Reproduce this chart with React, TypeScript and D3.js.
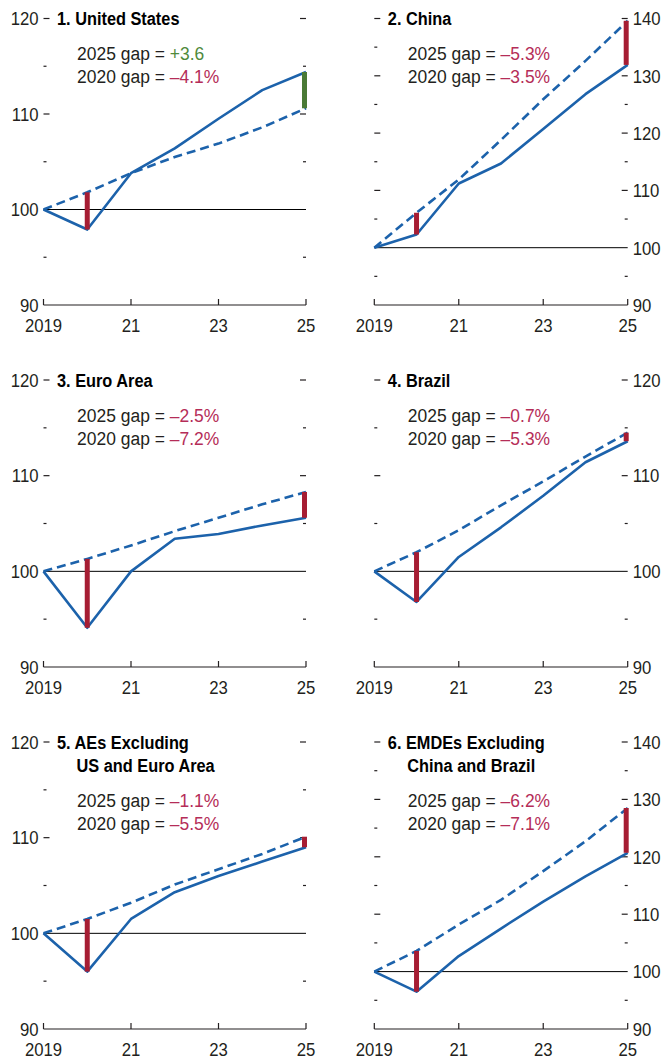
import { useEffect, useRef } from 'react';
import * as d3 from 'd3';

const years = [2019, 2020, 2021, 2022, 2023, 2024, 2025];
const xTickYears = [2019, 2021, 2023, 2025];
const xTickLabels = ['2019', '21', '23', '25'];

const usActual = [100, 97.9, 103.8, 106.4, 109.5, 112.5, 114.4];
const usTrend = [100, 101.8, 103.8, 105.5, 106.9, 108.6, 110.6];
const chinaActual = [100, 102.3, 111.2, 114.7, 120.7, 126.8, 131.9];
const chinaTrend = [100, 106.1, 111.9, 118.8, 125.9, 132.6, 139.6];
const euroActual = [100, 94.1, 100.0, 103.4, 103.9, 104.8, 105.6];
const euroTrend = [100, 101.3, 102.7, 104.2, 105.6, 107.0, 108.3];
const brazilActual = [100, 96.8, 101.5, 104.6, 107.9, 111.4, 113.6];
const brazilTrend = [100, 102.0, 104.3, 106.9, 109.4, 112.0, 114.5];
const aesActual = [100, 96.0, 101.5, 104.3, 106.0, 107.5, 109.0];
const aesTrend = [100, 101.5, 103.2, 105.1, 106.7, 108.3, 110.1];
const emdeActual = [100, 96.5, 102.7, 107.5, 112.2, 116.6, 120.7];
const emdeTrend = [100, 103.6, 108.2, 112.5, 117.5, 122.7, 128.5];

const titles = [
  ['1. United States'],
  ['2. China'],
  ['3. Euro Area'],
  ['4. Brazil'],
  ['5. AEs Excluding', 'US and Euro Area'],
  ['6. EMDEs Excluding', 'China and Brazil'],
];
const gap2025 = ['+3.6', '\u20135.3%', '\u20132.5%', '\u20130.7%', '\u20131.1%', '\u20136.2%'];
const gap2020 = ['\u20134.1%', '\u20133.5%', '\u20137.2%', '\u20135.3%', '\u20135.5%', '\u20137.1%'];
const yMax = [120, 140, 120, 120, 120, 140];

const actuals = [usActual, chinaActual, euroActual, brazilActual, aesActual, emdeActual];
const trends = [usTrend, chinaTrend, euroTrend, brazilTrend, aesTrend, emdeTrend];

const BLUE = '#1c62ab';
const BAR_RED = '#a61d33';
const BAR_GREEN = '#4a7a36';
const TXT_RED = '#b52d58';
const TXT_GREEN = '#4f8a3c';
const INK = '#231f20';
const FONT = '"Liberation Sans", Arial, sans-serif';
const FS = 19;
const SX = 0.88;

// narrow text: the reference uses a condensed face, so squeeze Liberation Sans
function addText(
  g: d3.Selection<SVGGElement, unknown, null, undefined>,
  x: number, y: number, anchor: string, sx = SX
) {
  return g.append('text')
    .attr('transform', `translate(${x},${y}) scale(${sx},1)`)
    .attr('text-anchor', anchor)
    .style('font-size', `${FS}px`)
    .style('fill', INK);
}

export default function App() {
  const svgRef = useRef<SVGSVGElement>(null);

  useEffect(() => {
    if (!svgRef.current) return;
    const svg = d3.select(svgRef.current);
    svg.selectAll('*').remove();

    const cols = [
      { x0: 43.5, x1: 306 },
      { x0: 374.3, x1: 627.7 },
    ];
    const rows = [
      { top: 18.5, bottom: 305 },
      { top: 380, bottom: 667 },
      { top: 742, bottom: 1029 },
    ];

    titles.forEach((title, i) => {
      const col = cols[i % 2];
      const row = rows[Math.floor(i / 2)];
      const right = i % 2 === 1;
      const g = svg.append('g').style('font-family', FONT) as any;

      const x = d3.scaleLinear().domain([2019, 2025]).range([col.x0, col.x1]);
      const y = d3.scaleLinear().domain([90, yMax[i]]).range([row.bottom, row.top]);

      // y ticks on both sides, pointing inward
      d3.range(95, yMax[i] + 1, 5).forEach(v => {
        if (v === 100) return;
        const len = v % 10 === 0 ? 6 : 3;
        g.append('line')
          .attr('x1', col.x0).attr('x2', col.x0 + len)
          .attr('y1', y(v)).attr('y2', y(v))
          .attr('stroke', INK).attr('stroke-width', 1.2);
        g.append('line')
          .attr('x1', col.x1 - len).attr('x2', col.x1)
          .attr('y1', y(v)).attr('y2', y(v))
          .attr('stroke', INK).attr('stroke-width', 1.2);
      });

      d3.range(90, yMax[i] + 1, 10).forEach(v => {
        addText(g, right ? col.x1 + 5 : col.x0 - 5, y(v) + 6.8, right ? 'start' : 'end')
          .text(String(v));
      });

      // x axis
      g.append('line')
        .attr('x1', col.x0).attr('x2', col.x1)
        .attr('y1', row.bottom).attr('y2', row.bottom)
        .attr('stroke', INK).attr('stroke-width', 1.2);
      xTickYears.forEach((yr, k) => {
        g.append('line')
          .attr('x1', x(yr)).attr('x2', x(yr))
          .attr('y1', row.bottom).attr('y2', row.bottom - 6)
          .attr('stroke', INK).attr('stroke-width', 1.2);
        addText(g, x(yr), row.bottom + 27, 'middle').text(xTickLabels[k]);
      });

      // 100 reference line
      g.append('line')
        .attr('x1', col.x0).attr('x2', col.x1)
        .attr('y1', y(100)).attr('y2', y(100))
        .attr('stroke', '#000').attr('stroke-width', 1);

      const line = d3.line<number>()
        .x((_, k) => x(years[k]))
        .y(d => y(d));

      g.append('path')
        .datum(trends[i])
        .attr('fill', 'none')
        .attr('stroke', BLUE)
        .attr('stroke-width', 2.6)
        .attr('stroke-dasharray', '9,5')
        .attr('d', line);

      g.append('path')
        .datum(actuals[i])
        .attr('fill', 'none')
        .attr('stroke', BLUE)
        .attr('stroke-width', 2.6)
        .attr('stroke-linejoin', 'round')
        .attr('d', line);

      // gap bars for 2020 and 2025
      [1, 6].forEach(k => {
        const a = actuals[i][k];
        const t = trends[i][k];
        const bx = x(years[k]) - (k === 6 ? 1.5 : 0);
        g.append('line')
          .attr('x1', bx).attr('x2', bx)
          .attr('y1', y(t)).attr('y2', y(a))
          .attr('stroke', a > t ? BAR_GREEN : BAR_RED)
          .attr('stroke-width', 5);
      });

      // title
      title.forEach((t: string, k: number) => {
        addText(g, col.x0 + (k === 0 ? 13.5 : 33), row.top + 6.8 + k * 23.4, 'start', 0.86)
          .style('font-weight', 'bold')
          .style('fill', '#000')
          .text(t);
      });

      const gy = row.top + 41.8 + (title.length - 1) * 23;
      [['2025 gap = ', gap2025[i]], ['2020 gap = ', gap2020[i]]].forEach(([lead, val], k) => {
        const txt = addText(g, col.x0 + 33.5, gy + k * 23, 'start', 0.92);
        txt.append('tspan').text(lead);
        txt.append('tspan')
          .style('fill', val.startsWith('+') ? TXT_GREEN : TXT_RED)
          .text(val);
      });
    });
  }, []);

  return (
    <svg
      ref={svgRef}
      width={662}
      height={1062}
      style={{ position: 'absolute', left: 0, top: 0, background: '#fff' }}
    />
  );
}
